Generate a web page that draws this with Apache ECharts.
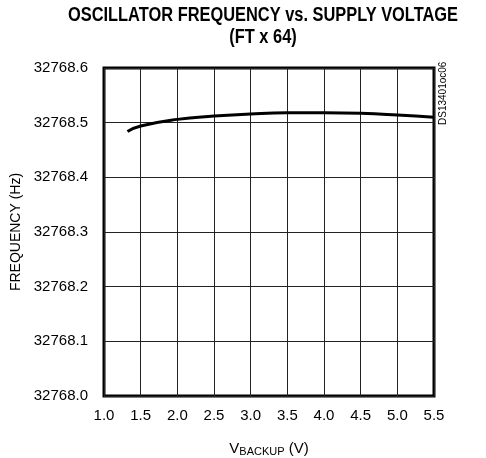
<!DOCTYPE html>
<html>
<head>
<meta charset="utf-8">
<script src="https://cdn.jsdelivr.net/npm/echarts@6/dist/echarts.min.js"></script>
<style>
  html, body { margin: 0; padding: 0; background: #fff; }
  #chart { width: 486px; height: 458px; }
</style>
</head>
<body>
<div id="chart"></div>
<script>
// supply voltage (V) and measured frequency (Hz)
const vBackup = [1.32, 1.5, 2.0, 2.5, 3.0, 3.5, 4.0, 4.5, 5.0, 5.5];
const freqHz = [32768.484, 32768.494, 32768.506, 32768.512, 32768.516, 32768.518, 32768.518, 32768.517, 32768.514, 32768.510];

const font = "'Liberation Sans Narrow', 'Arial Narrow', 'Liberation Sans', sans-serif";

const chart = echarts.init(document.getElementById("chart"));

chart.setOption({
  animation: false,
  grid: {
    left: 104,
    right: 52,
    top: 68,
    bottom: 62,
    outerBoundsMode: "none",
    show: true,
    borderColor: "#000",
    borderWidth: 3,
  },
  xAxis: {
    type: "value",
    min: 1.0,
    max: 5.5,
    interval: 0.5,
    axisLine: { show: false },
    axisTick: { show: false },
    splitLine: { show: true, lineStyle: { color: "#222", width: 1 } },
    axisLabel: {
      margin: 12,
      color: "#000",
      fontFamily: font,
      fontSize: 15,
      formatter: (v) => v.toFixed(1),
    },
    name: "{v|V}{sub|BACKUP}{v| (V)}",
    nameLocation: "middle",
    nameGap: 44,
    nameTextStyle: {
      rich: {
        v: { fontFamily: font, fontSize: 15, color: "#000" },
        sub: { fontFamily: font, fontSize: 11, color: "#000", padding: [6, 0, 0, 0] },
      },
    },
  },
  yAxis: {
    type: "value",
    min: 32768.0,
    max: 32768.6,
    interval: 0.1,
    axisLine: { show: false },
    axisTick: { show: false },
    splitLine: { show: true, lineStyle: { color: "#222", width: 1 } },
    axisLabel: {
      margin: 16,
      color: "#000",
      fontFamily: font,
      fontSize: 15,
      formatter: (v) => v.toFixed(1),
    },
    name: "FREQUENCY (Hz)",
    nameLocation: "middle",
    nameRotate: 90,
    nameGap: 78,
    nameTextStyle: { fontFamily: font, fontSize: 14, color: "#000" },
  },
  graphic: [
    // title, squeezed horizontally to look like the condensed original
    {
      type: "text",
      x: 263,
      y: 4,
      scaleX: 0.82,
      style: {
        text: "OSCILLATOR FREQUENCY vs. SUPPLY VOLTAGE\n(FT x 64)",
        fontFamily: font,
        fontSize: 20,
        fontWeight: "bold",
        lineHeight: 22,
        align: "center",
        fill: "#000",
      },
    },
    {
      type: "text",
      x: 438,
      y: 125,
      rotation: Math.PI / 2,
      style: {
        text: "DS13401oc06",
        fontFamily: font,
        fontSize: 10,
        fill: "#000",
      },
    },
  ],
  series: [
    {
      type: "line",
      data: vBackup.map((v, i) => [v, freqHz[i]]),
      smooth: true,
      showSymbol: false,
      lineStyle: { color: "#000", width: 3 },
    },
  ],
});
</script>
</body>
</html>
